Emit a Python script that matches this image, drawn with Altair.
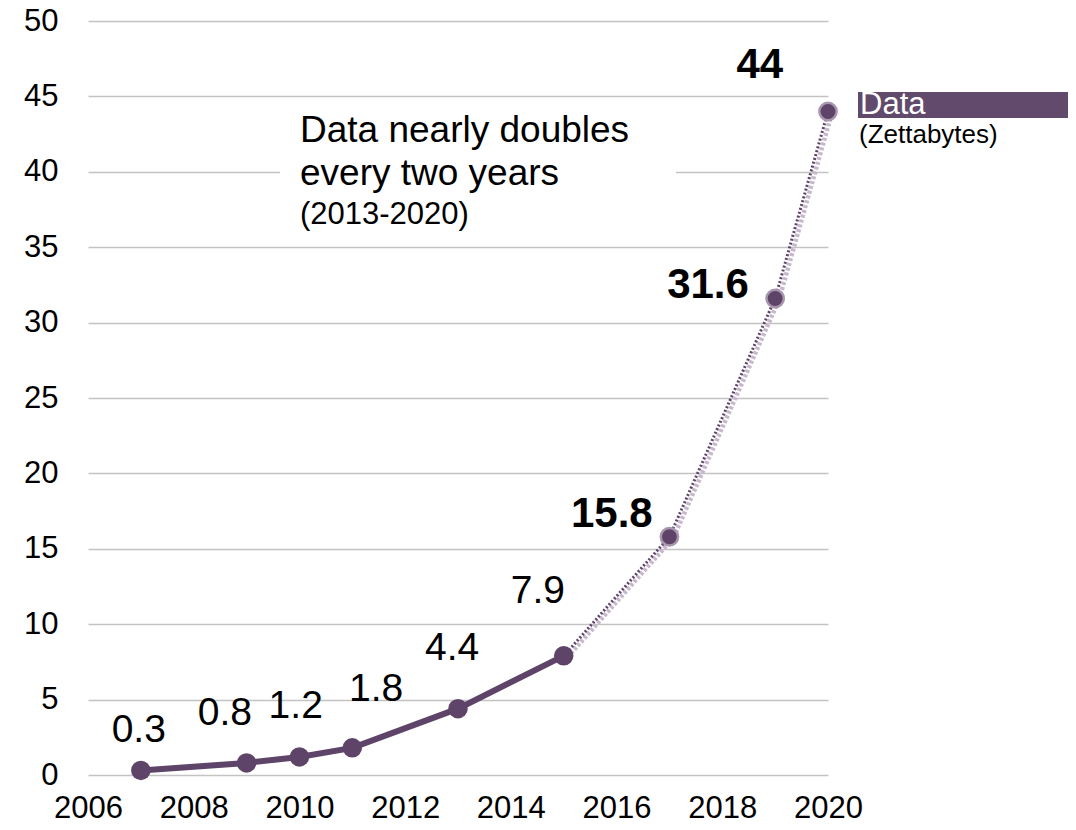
import altair as alt
import pandas as pd

# ---- data ----
years = [2007, 2009, 2010, 2011, 2013, 2015, 2017, 2019, 2020]
values = [0.3, 0.8, 1.2, 1.8, 4.4, 7.9, 15.8, 31.6, 44]
labels = ["0.3", "0.8", "1.2", "1.8", "4.4", "7.9", "15.8", "31.6", "44"]
kind = ["actual"] * 6 + ["projected"] * 3
# label anchor positions (data coordinates)
label_year = [2006.96, 2008.59, 2009.93, 2011.45, 2012.89, 2014.51, 2015.91, 2017.73, 2018.71]
label_value = [2.96, 4.08, 4.55, 5.73, 8.43, 12.19, 17.33, 32.48, 47.1]
x_ticks = [2006, 2008, 2010, 2012, 2014, 2016, 2018, 2020]
y_ticks = [0, 5, 10, 15, 20, 25, 30, 35, 40, 45, 50]

PURPLE = "#5e4468"
FONT = "Liberation Sans"

df = pd.DataFrame({"year": years, "value": values, "label": labels, "kind": kind,
                   "ly": label_year, "lv": label_value})
actual = df[df.year <= 2015]
proj = df[df.year >= 2015]

xs = alt.Scale(domain=[2006, 2020], nice=False)
ys = alt.Scale(domain=[0, 50], nice=False)

X = alt.X("year:Q", scale=xs,
          axis=alt.Axis(values=x_ticks, format="d", grid=False, ticks=False, domain=False,
                        labelFontSize=31, labelFont=FONT, labelColor="#000", labelPadding=18,
                        title=None, labelFlush=False))
Y = alt.Y("value:Q", scale=ys,
          axis=alt.Axis(values=y_ticks, grid=True, gridColor="#c3c3c3", gridWidth=1.6,
                        ticks=False, domain=False, labelFontSize=31, labelFont=FONT,
                        labelColor="#000", labelPadding=30, title=None, labelFlush=False))

base = alt.Chart(df).encode(x=X, y=Y)

one = pd.DataFrame({"a": [0]})

# white box breaking the gridline behind the annotation
gap = alt.Chart(one).mark_rect(color="white").encode(
    x=alt.value(192), x2=alt.value(588), y=alt.value(135), y2=alt.value(160))

shadow = alt.Chart(proj).mark_line(color="#c6b7cc", strokeWidth=4.5, strokeDash=[3, 2],
                                   xOffset=4, yOffset=1).encode(
    x=alt.X("year:Q", scale=xs), y=alt.Y("value:Q", scale=ys))
dotted = alt.Chart(proj).mark_line(color=PURPLE, strokeWidth=3, strokeDash=[2, 2]).encode(
    x=alt.X("year:Q", scale=xs), y=alt.Y("value:Q", scale=ys))
solid = alt.Chart(actual).mark_line(color=PURPLE, strokeWidth=6).encode(
    x=alt.X("year:Q", scale=xs), y=alt.Y("value:Q", scale=ys))

pts_a = alt.Chart(actual).mark_point(filled=True, color=PURPLE, size=380, opacity=1).encode(
    x=alt.X("year:Q", scale=xs), y=alt.Y("value:Q", scale=ys))
pts_p = alt.Chart(df[df.year >= 2017]).mark_point(filled=True, fill=PURPLE, stroke="#a895ae",
                                                   strokeWidth=2.5, size=300, opacity=1).encode(
    x=alt.X("year:Q", scale=xs), y=alt.Y("value:Q", scale=ys))

lab_a = alt.Chart(actual).mark_text(font=FONT, fontSize=39, color="#000", baseline="middle",
                                    align="center").encode(
    x=alt.X("ly:Q", scale=xs), y=alt.Y("lv:Q", scale=ys), text="label:N")
lab_p = alt.Chart(df[df.year >= 2017]).mark_text(font=FONT, fontSize=42, fontWeight="bold",
                                                  color="#000", baseline="middle",
                                                  align="center").encode(
    x=alt.X("ly:Q", scale=xs), y=alt.Y("lv:Q", scale=ys), text="label:N")

ann1 = alt.Chart(one).mark_text(font=FONT, fontSize=37, align="left", baseline="alphabetic",
                                color="#000", text="Data nearly doubles").encode(
    x=alt.value(212), y=alt.value(121))
ann2 = alt.Chart(one).mark_text(font=FONT, fontSize=37, align="left", baseline="alphabetic",
                                color="#000", text="every two years").encode(
    x=alt.value(212), y=alt.value(164))
ann3 = alt.Chart(one).mark_text(font=FONT, fontSize=31, align="left", baseline="alphabetic",
                                color="#000", text="(2013-2020)").encode(
    x=alt.value(212), y=alt.value(203))

leg_box = alt.Chart(one).mark_rect(color="#614a6b").encode(
    x=alt.value(770), x2=alt.value(982), y=alt.value(71), y2=alt.value(97))
leg_t1 = alt.Chart(one).mark_text(font=FONT, fontSize=31, align="left", baseline="alphabetic",
                                  color="white", text="Data").encode(
    x=alt.value(772), y=alt.value(93))
leg_t2 = alt.Chart(one).mark_text(font=FONT, fontSize=26, align="left", baseline="alphabetic",
                                  color="#000", text="(Zettabytes)").encode(
    x=alt.value(771), y=alt.value(122))

axes = base.mark_point(opacity=0)

chart = alt.layer(axes, gap, shadow, dotted, solid, pts_a, pts_p, lab_a, lab_p,
                  ann1, ann2, ann3, leg_box, leg_t1, leg_t2).properties(
    width=740, height=754,
    autosize=alt.AutoSizeParams(type="none"),
    padding={"left": 80, "top": 13, "right": 240, "bottom": 54},
).configure_view(stroke=None)

chart.save("out.html", embed_options={"renderer": "svg", "actions": False})
